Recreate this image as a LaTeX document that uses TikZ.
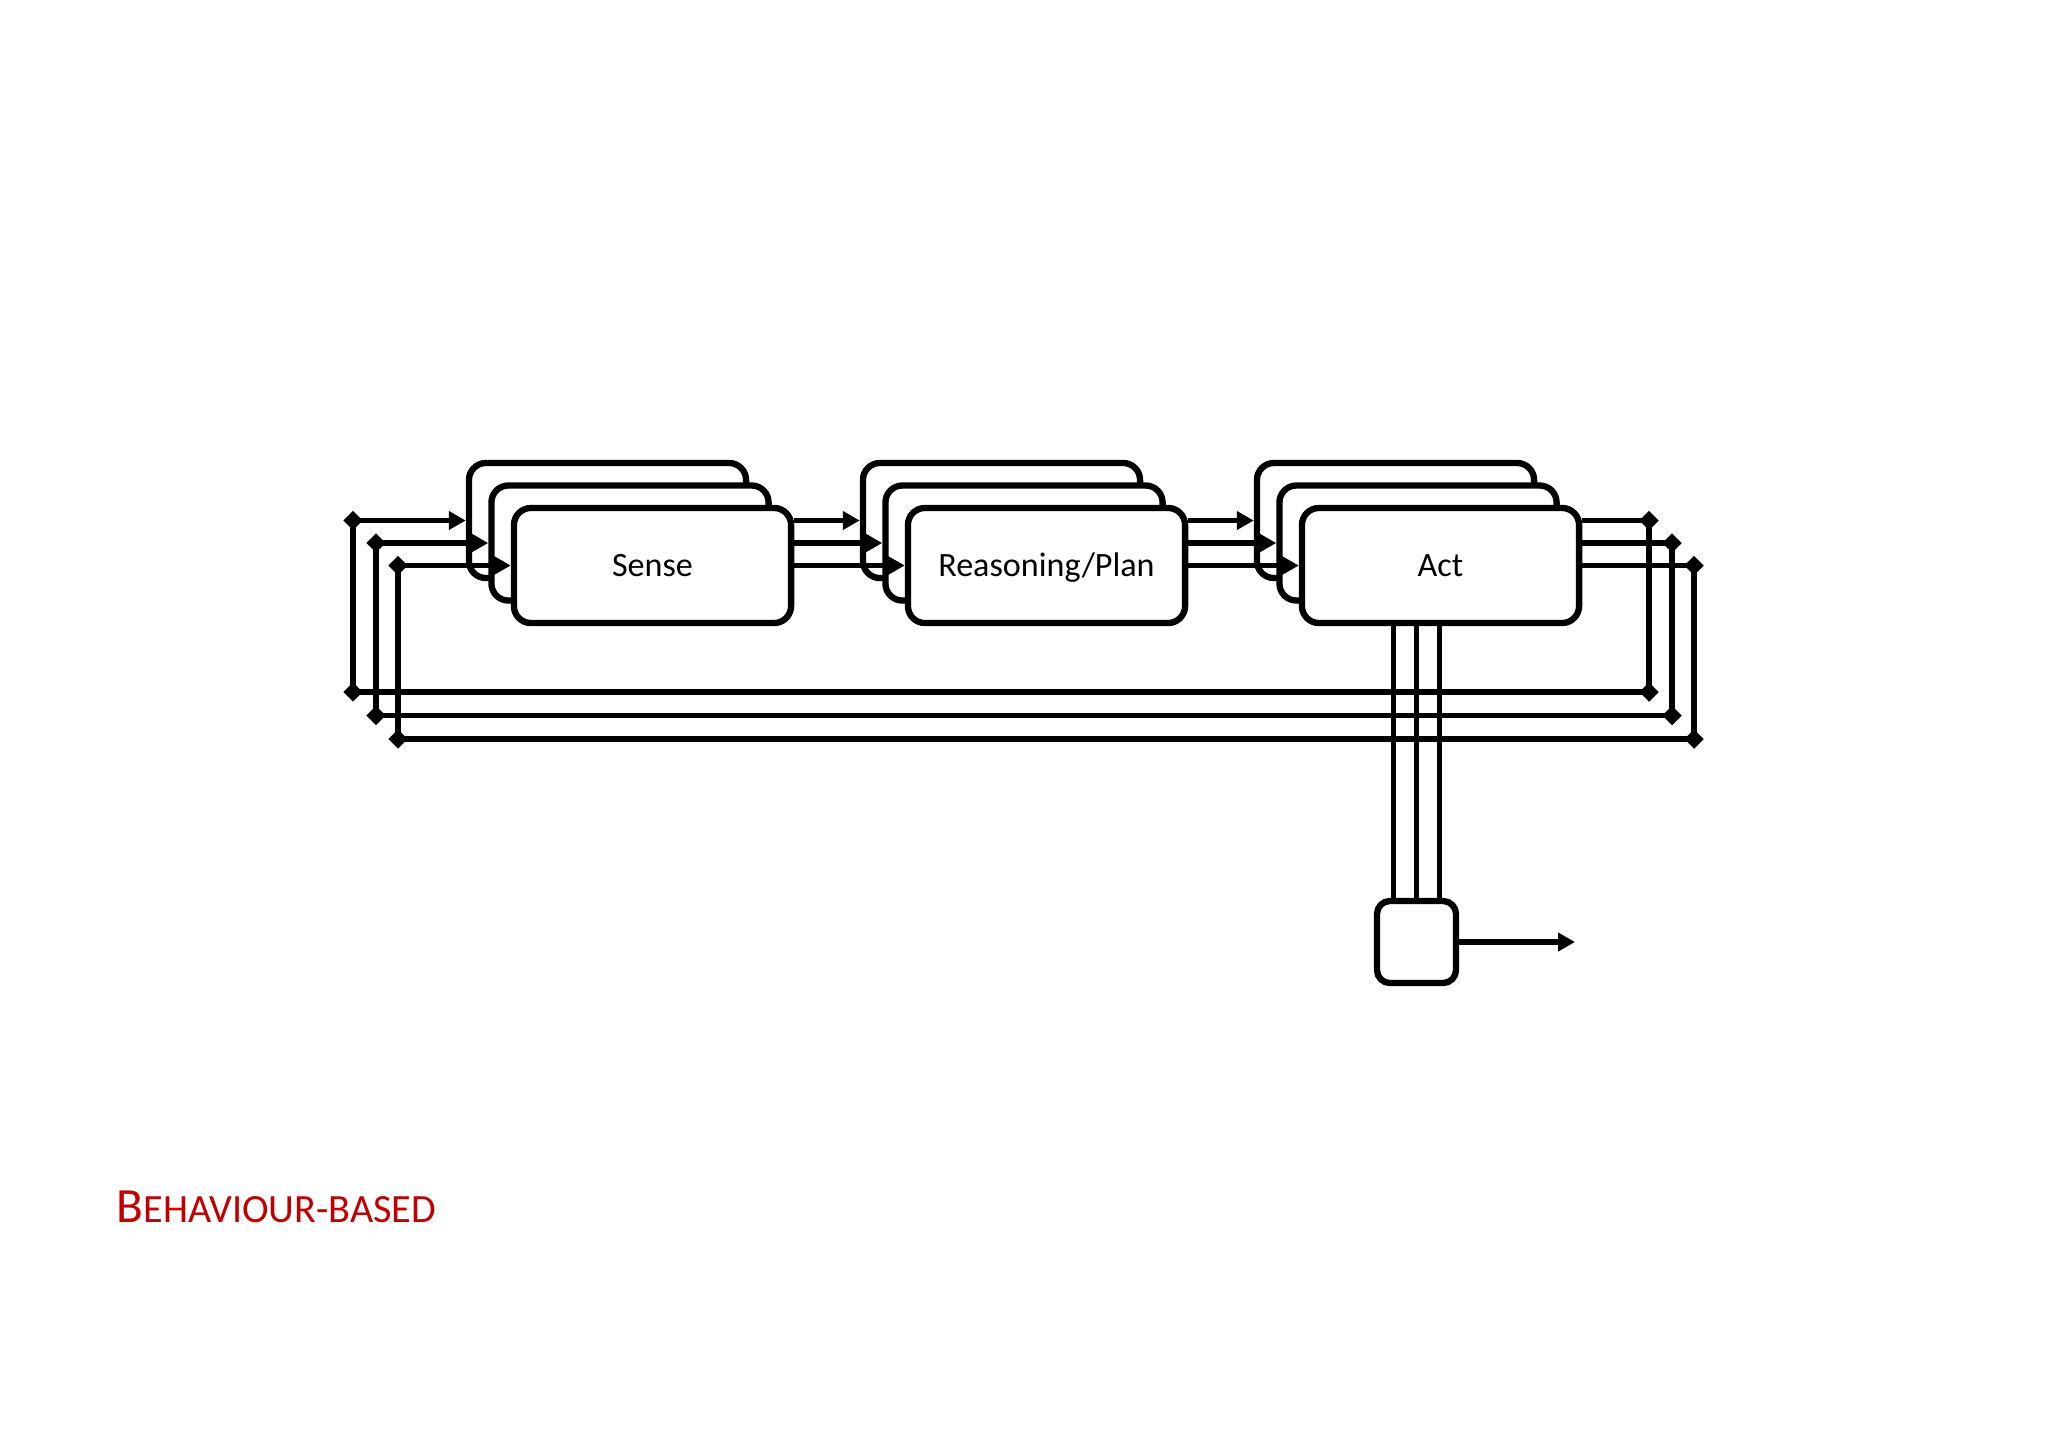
\documentclass[tikz,border=0pt]{standalone}
\usepackage{fontspec}
\setmainfont{Carlito}
\usetikzlibrary{shapes.geometric,arrows.meta,positioning,calc}
\definecolor{titlered}{HTML}{C00000}

\begin{document}
\begin{tikzpicture}[x=0.01cm, y=-0.01cm,
    stage/.style={rectangle, draw=black, fill=white, rounded corners=0.17cm,
                  minimum width=2.77cm, minimum height=1.15cm, line width=1.8pt,
                  inner sep=0pt, text height=0.64em, text depth=0pt,
                  font=\fontsize{9.7}{11}\selectfont},
    mux/.style={rectangle, draw=black, fill=white, rounded corners=0.13cm,
                minimum width=0.79cm, minimum height=0.82cm, line width=1.8pt, inner sep=0pt},
    joint/.style={diamond, fill=black, minimum size=0.2cm, inner sep=0pt},
    wire/.style={line width=1.55pt},
    link/.style={wire, -{Triangle[length=0.17cm, width=0.18cm]}},
    title/.style={text=titlered, inner sep=0pt}
]
    \useasboundingbox (0,0) rectangle (2048,1447);

    % Sense stack
    \node[stage] (sense-c) at (607.5,520.5) {};
    \node[stage] (sense-b) at (630,543) {};
    \node[stage] (sense-a) at (652.5,565.5) {Sense};

    % Reasoning stack
    \node[stage] (plan-c) at (1001.5,520.5) {};
    \node[stage] (plan-b) at (1024,543) {};
    \node[stage] (plan-a) at (1046.5,565.5) {Reasoning/Plan};

    % Act stack
    \node[stage] (act-c) at (1395.5,520.5) {};
    \node[stage] (act-b) at (1418,543) {};
    \node[stage] (act-a) at (1440.5,565.5) {Act};

    % Output selector
    \node[mux] (select) at (1416.5,942) {};
    \coordinate (out) at (1575,942);

    % Joints of the feedback loops
    \foreach \i/\xl/\xr/\yt/\yb in {1/353/1649/520.5/692, 2/376/1672/543/715.5, 3/398/1694/565.5/739} {
        \node[joint] (lt\i) at (\xl,\yt) {};
        \node[joint] (lb\i) at (\xl,\yb) {};
        \node[joint] (rt\i) at (\xr,\yt) {};
        \node[joint] (rb\i) at (\xr,\yb) {};
    }

    % Forward links
    \foreach \l in {a,b,c} {
        \draw[link] (sense-a.east |- plan-\l) -- (plan-\l.west);
        \draw[link] (plan-a.east |- act-\l) -- (act-\l.west);
    }

    % Feedback loops
    \foreach \l/\i in {c/1,b/2,a/3} {
        \draw[wire] (act-a.east |- act-\l) -- (rt\i.center) -- (rb\i.center)
            -- (lb\i.center) -- (lt\i.center);
        \draw[link] (lt\i.center) -- (sense-\l.west);
    }

    % Act to selector
    \foreach \dx in {-23,0,23} {
        \coordinate (v) at ($(select.north)+(\dx,0)$);
        \draw[wire] (v) -- (v |- act-a.south);
    }
    \draw[link] (select) -- (out);

    \node[title, anchor=base west] (label) at (116,1222)
        {{\fontsize{14}{16}\selectfont B}{\fontsize{11.4}{13}\selectfont EHAVIOUR-BASED}};
\end{tikzpicture}
\end{document}
